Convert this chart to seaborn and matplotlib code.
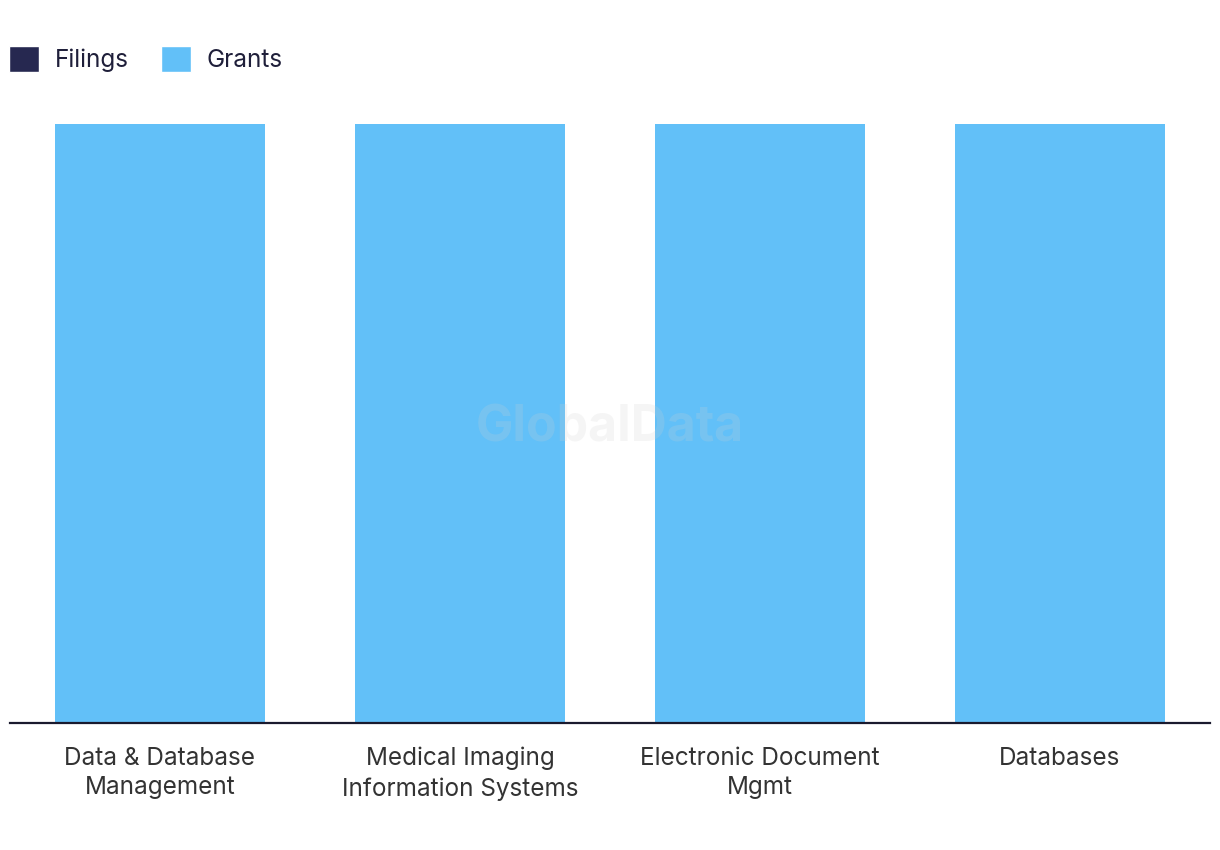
import matplotlib
matplotlib.use("Agg")
import matplotlib.pyplot as plt
import seaborn as sns
import pandas as pd
from matplotlib.patches import Patch

categories = ["Data & Database\nManagement", "Medical Imaging\nInformation Systems",
              "Electronic Document\nMgmt", "Databases"]
filings = [0, 0, 0, 0]
grants = [100, 100, 100, 100]

sns.set_theme(style="white")
plt.rcParams['font.family'] = ['Inter', 'DejaVu Sans']

FIL_C = "#262850"
GRA_C = "#62C0F8"

fig = plt.figure(figsize=(12.2, 8.5), dpi=100)
ax = fig.add_axes([10/1220, 127/850, 1200/1220, 599/850])

df = pd.DataFrame({"cat": categories, "filings": filings,
                   "total": [f + g for f, g in zip(filings, grants)]})
sns.barplot(data=df, x="cat", y="total", color=GRA_C, width=0.7, ax=ax,
            saturation=1, edgecolor="none")
sns.barplot(data=df, x="cat", y="filings", color=FIL_C, width=0.7, ax=ax,
            saturation=1, edgecolor="none")

ax.set_xlim(-0.5, 3.5)
ax.set_ylim(0, 100)
ax.set_xlabel("")
ax.set_ylabel("")
ax.set_yticks([])
for s in ["top", "right", "left"]:
    ax.spines[s].set_visible(False)
ax.spines["bottom"].set_color("#1a1a2e")
ax.spines["bottom"].set_linewidth(1.6)
ax.tick_params(axis="x", length=0, pad=17, labelsize=17.5, colors="#333333")
for lbl in ax.get_xticklabels():
    lbl.set_linespacing(1.38)

fig.text(0.5, 1 - 428/850, "GlobalData", ha="center", va="center",
         fontsize=36, fontweight="bold", color="#d0d0d0", alpha=0.2, zorder=10)

handles = [Patch(facecolor=FIL_C, label="Filings"), Patch(facecolor=GRA_C, label="Grants")]
leg = fig.legend(handles=handles, loc="center left", ncol=2,
           frameon=False, fontsize=17.5, handlelength=1.25, handleheight=1.25,
           handletextpad=0.65, columnspacing=1.3, labelcolor="#1f1f3a",
           borderaxespad=0, borderpad=0)
leg.set_bbox_to_anchor((9/1220, 1 - 59/850), transform=fig.transFigure)

fig.savefig("out.png", dpi=100)
